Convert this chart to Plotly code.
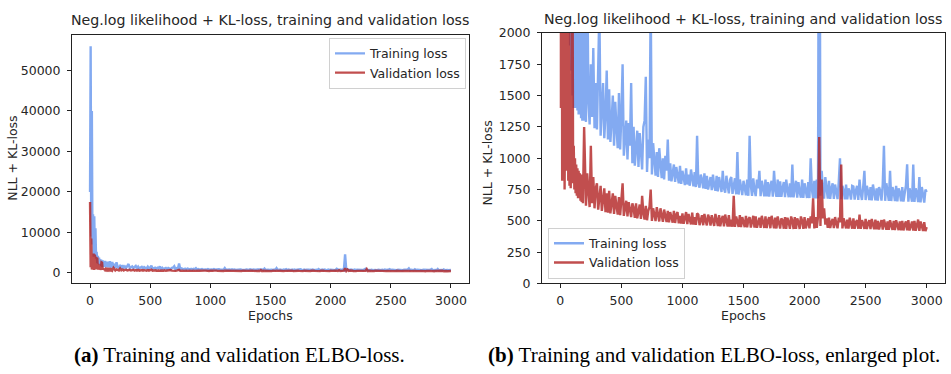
import plotly.graph_objects as go

# Epoch grid: every 5 epochs during the fast initial drop, then every 10 epochs
epochs = list(range(0, 200, 5)) + list(range(200, 3001, 10))

# Training loss (NLL + KL), one row per block of epochs
train_loss = (
    [20000, 56000, 9000, 40000, 7000, 14500, 4000, 14000, 5000, 11000,
     3500, 5200, 2400, 4200, 2200, 3800, 1900, 3400, 1700, 3200,
     1500, 3100, 1400, 2900, 1450, 3000, 1400, 2600, 1380, 2800,
     1350, 2500, 1350, 2900, 1320, 2400, 1300, 2700, 1300, 2300]
    + [1800, 1290, 2600, 1450, 1270, 1750, 1330, 1880, 1240, 1600]
    + [1230, 1650, 2200, 1180, 1420, 1600, 1160, 1350, 1700, 1150]
    + [1550, 1130, 1300, 1500, 1100, 1450, 1240, 1080, 1520, 1070]
    + [1350, 1750, 1020, 1200, 1300, 990, 1280, 1100, 1600, 960]
    + [1250, 940, 1100, 1220, 930, 1200, 1050, 910, 1250, 1300]
    + [1650, 890, 1150, 1000, 2300, 870, 1120, 960, 860, 1050]
    + [850, 1080, 920, 840, 1000, 830, 1020, 900, 1150, 820]
    + [960, 815, 880, 950, 810, 930, 860, 800, 940, 795]
    + [900, 840, 785, 920, 790, 870, 780, 910, 830, 775]
    + [890, 770, 1180, 800, 765, 870, 830, 760, 880, 755]
    + [860, 750, 800, 850, 745, 870, 780, 740, 860, 735]
    + [850, 790, 730, 900, 760, 725, 860, 780, 720, 830]
    + [850, 715, 800, 840, 712, 1050, 710, 830, 770, 705]
    + [820, 760, 703, 830, 700, 1180, 780, 700, 840, 745]
    + [698, 830, 760, 900, 697, 820, 740, 696, 830, 695]
    + [810, 694, 780, 820, 693, 900, 750, 692, 830, 692]
    + [815, 691, 760, 810, 690, 830, 745, 689, 800, 688]
    + [950, 687, 760, 820, 686, 810, 730, 685, 830, 684]
    + [800, 740, 683, 810, 682, 1000, 750, 681, 820, 680]
    + [830, 679, 4600, 700, 900, 760, 678, 850, 740, 677]
    + [820, 676, 760, 800, 675, 790, 735, 674, 810, 1000]
    + [673, 780, 740, 672, 790, 671, 760, 730, 670, 780]
    + [775, 669, 740, 780, 668, 830, 720, 667, 770, 900]
    + [666, 780, 735, 665, 770, 664, 790, 730, 663, 760]
    + [662, 770, 740, 661, 790, 1100, 660, 800, 735, 659]
    + [900, 658, 770, 730, 657, 780, 656, 760, 725, 655]
    + [770, 654, 720, 780, 952, 653, 760, 715, 652, 950]
    + [651, 760, 720, 650, 850, 648, 770, 710, 645, 750]
    + [730]
)

# Validation loss (NLL + KL)
val_loss = (
    [17500, 1400, 8500, 820, 3000, 2600, 4800, 750, 4500, 2400,
     4000, 900, 3800, 820, 2200, 780, 1600, 760, 1200, 2600,
     2500, 800, 1100, 750, 1000, 720, 950, 700, 920, 680,
     900, 680, 880, 660, 870, 650, 850, 640, 860, 1250]
    + [1050, 620, 880, 700, 610, 1100, 640, 850, 600, 760]
    + [800, 590, 700, 780, 580, 680, 760, 570, 720, 565]
    + [740, 560, 650, 720, 555, 700, 620, 550, 690, 545]
    + [670, 800, 540, 620, 660, 535, 650, 590, 530, 640]
    + [600, 525, 640, 520, 580, 630, 515, 700, 560, 510]
    + [620, 505, 580, 610, 750, 500, 600, 550, 498, 610]
    + [560, 495, 600, 540, 492, 590, 530, 490, 580, 488]
    + [570, 520, 485, 580, 483, 550, 570, 480, 540, 478]
    + [560, 476, 520, 570, 474, 555, 510, 472, 565, 470]
    + [530, 468, 560, 550, 466, 520, 545, 465, 555, 500]
    + [463, 550, 520, 462, 545, 500, 460, 555, 515, 458]
    + [545, 457, 510, 540, 456, 550, 500, 455, 545, 454]
    + [510, 453, 700, 452, 535, 500, 451, 545, 450, 530]
    + [490, 449, 540, 448, 510, 530, 447, 500, 540, 446]
    + [535, 445, 500, 525, 444, 540, 490, 443, 535, 442]
    + [500, 530, 441, 540, 495, 440, 525, 439, 535, 490]
    + [438, 520, 505, 437, 530, 436, 525, 490, 436, 535]
    + [500, 435, 530, 436, 520, 490, 435, 535, 500, 436]
    + [530, 439, 495, 520, 440, 535, 480, 680, 439, 530]
    + [445, 530, 1170, 460, 830, 520, 600, 470, 520, 444]
    + [525, 443, 490, 515, 442, 530, 480, 441, 525, 490]
    + [950, 440, 520, 485, 440, 510, 439, 525, 480, 438]
    + [520, 437, 490, 505, 437, 550, 436, 505, 480, 436]
    + [515, 435, 480, 505, 434, 515, 470, 433, 510, 432]
    + [500, 431, 475, 505, 430, 510, 470, 429, 495, 428]
    + [505, 470, 428, 500, 427, 505, 465, 426, 495, 425]
    + [500, 424, 470, 495, 424, 505, 423, 470, 495, 422]
    + [500, 421, 470, 510, 420, 495, 460, 419, 490, 418]
    + [450]
)

x_ticks = [0, 500, 1000, 1500, 2000, 2500, 3000]
y_ticks_full = [0, 10000, 20000, 30000, 40000, 50000]
y_ticks_zoom = [0, 250, 500, 750, 1000, 1250, 1500, 1750, 2000]

TITLE = "Neg.log likelihood + KL-loss, training and validation loss"
TRAIN_COLOR = "rgba(100,149,237,0.8)"
VAL_COLOR = "rgba(178,34,34,0.8)"
TEXT = "#262626"
W, H = 951, 374
FS = 12.5
LW = 2.4

fig = go.Figure()
for xa, ya, lg in (("x", "y", "legend"), ("x2", "y2", "legend2")):
    fig.add_trace(go.Scatter(x=epochs, y=train_loss, mode="lines", name="Training loss",
                             line=dict(color=TRAIN_COLOR, width=LW),
                             xaxis=xa, yaxis=ya, legend=lg))
    fig.add_trace(go.Scatter(x=epochs, y=val_loss, mode="lines", name="Validation loss",
                             line=dict(color=VAL_COLOR, width=LW),
                             xaxis=xa, yaxis=ya, legend=lg))


def px(x):
    return x / W


def py(y):
    return 1 - y / H


axis_common = dict(showline=True, mirror=True, linecolor="#222", linewidth=1,
                   ticks="outside", ticklen=4, tickcolor="#222", showgrid=False,
                   zeroline=False, tickformat="d",
                   tickfont=dict(family="DejaVu Sans", size=FS, color=TEXT))

legend_common = dict(bgcolor="rgba(255,255,255,0.8)", bordercolor="#d0d0d0", borderwidth=1,
                     font=dict(family="DejaVu Sans", size=FS, color=TEXT), tracegroupgap=0)

fig.update_layout(
    width=W, height=H,
    margin=dict(l=0, r=0, t=0, b=0),
    paper_bgcolor="white", plot_bgcolor="white",
    font=dict(family="DejaVu Sans", color=TEXT),
    xaxis=dict(domain=[px(72), px(469)], range=[-150, 3150], tickvals=x_ticks,
               anchor="y", ticklabelstandoff=2, **axis_common),
    yaxis=dict(domain=[py(286), py(28)], range=[-2380, 58780], tickvals=y_ticks_full,
               anchor="x", ticklabelstandoff=4, **axis_common),
    xaxis2=dict(domain=[px(542), px(945)], range=[-150, 3150], tickvals=x_ticks,
                anchor="y2", ticklabelstandoff=2, **axis_common),
    yaxis2=dict(domain=[py(287), py(26)], range=[0, 2000], tickvals=y_ticks_zoom,
                anchor="x2", ticklabelstandoff=4, **axis_common),
    legend=dict(x=px(466), y=py(31), xanchor="right", yanchor="top", **legend_common),
    legend2=dict(x=px(548), y=py(282), xanchor="left", yanchor="bottom", **legend_common),
)

annots = [
    dict(x=px(270), y=py(13), text=TITLE, font=dict(size=14.2)),
    dict(x=px(743), y=py(11), text=TITLE, font=dict(size=14.2)),
    dict(x=px(270), y=py(320), text="Epochs", font=dict(size=FS)),
    dict(x=px(743), y=py(320), text="Epochs", font=dict(size=FS)),
    dict(x=px(13), y=py(157), text="NLL + KL-loss", textangle=-90, font=dict(size=FS)),
    dict(x=px(488), y=py(162), text="NLL + KL-loss", textangle=-90, font=dict(size=FS)),
    dict(x=px(239), y=py(361), text="<b>(a)</b> Training and validation ELBO-loss.",
         font=dict(family="Liberation Serif", size=21, color="black")),
    dict(x=px(714), y=py(362), text="<b>(b)</b> Training and validation ELBO-loss, enlarged plot.",
         font=dict(family="Liberation Serif", size=21, color="black")),
]
for a in annots:
    fig.add_annotation(xref="paper", yref="paper", showarrow=False,
                       xanchor="center", yanchor="middle", **a)

fig.write_html("out.html")
